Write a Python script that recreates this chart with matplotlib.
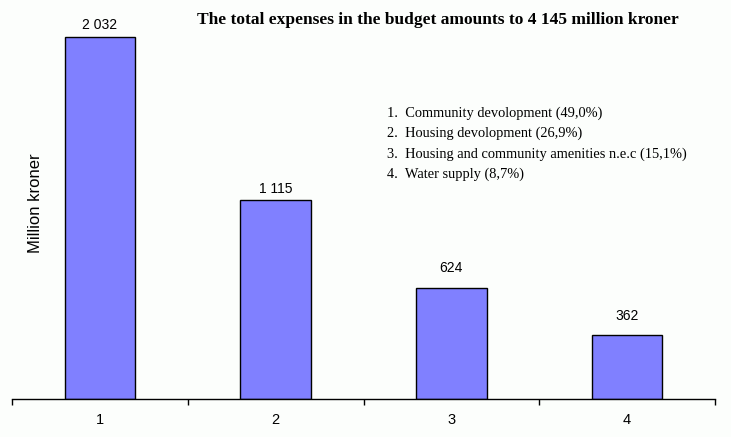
import matplotlib.pyplot as plt
from matplotlib.ticker import FixedLocator, NullFormatter

categories = ["1", "2", "3", "4"]
values = [2032, 1115, 624, 362]
value_labels = ["2 032", "1 115", "624", "362"]
legend_lines = [
    "1.  Community devolopment (49,0%)",
    "2.  Housing devolopment (26,9%)",
    "3.  Housing and community amenities n.e.c (15,1%)",
    "4.  Water supply (8,7%)",
]
title = "The total expenses in the budget amounts to 4 145 million kroner"

# label gap above each bar (points) - the original isn't uniform
label_gap = [3.5, 3.5, 9.3, 8.0]

W, H = 731, 437
bg = "#fcfefc"
fig = plt.figure(figsize=(W / 100, H / 100), dpi=100, facecolor=bg)

# axes placed in pixel terms: x-axis at y=399, left 12, right 715
ymax = 2200
px_per_unit = (399 - 37) / 2032
top_px = 399 - ymax * px_per_unit
ax = fig.add_axes([12 / W, (H - 399) / H, (715 - 12) / W, (399 - top_px) / H])
ax.set_facecolor(bg)

x = range(len(categories))
ax.bar(x, values, width=0.4, color="#8080ff", edgecolor="black", linewidth=1.0)
ax.set_xlim(-0.5, len(categories) - 0.5)
ax.set_ylim(0, ymax)

for xi, v, lab, g in zip(x, values, value_labels, label_gap):
    ax.annotate(lab, (xi, v), xytext=(0, g), textcoords="offset points",
                ha="center", va="bottom", fontsize=10, family="Liberation Sans")

for s in ["top", "right", "left"]:
    ax.spines[s].set_visible(False)
ax.spines["bottom"].set_linewidth(1.0)
ax.set_yticks([])

ax.xaxis.set_major_locator(FixedLocator([i - 0.5 for i in range(len(categories) + 1)]))
ax.xaxis.set_major_formatter(NullFormatter())
ax.xaxis.set_minor_locator(FixedLocator(list(x)))
ax.set_xticklabels(categories, minor=True)
ax.tick_params(axis="x", which="major", length=4, width=1, direction="out")
ax.tick_params(axis="x", which="minor", length=0, pad=10, labelsize=10.5)
for t in ax.get_xticklabels(minor=True):
    t.set_family("Liberation Sans")

fig.text(35 / W, 1 - 203 / H, "Million kroner", rotation=90, ha="center", va="center",
         fontsize=12, family="Liberation Sans")

fig.text(438 / W, 1 - 20 / H, title, ha="center", va="center",
         fontsize=12.5, fontweight="bold", family="Liberation Serif")

for i, line in enumerate(legend_lines):
    fig.text(387 / W, 1 - (113 + i * 20.5) / H, line, ha="left", va="center",
             fontsize=10.4, family="Liberation Serif")

fig.savefig("out.png", dpi=100, facecolor=bg)
